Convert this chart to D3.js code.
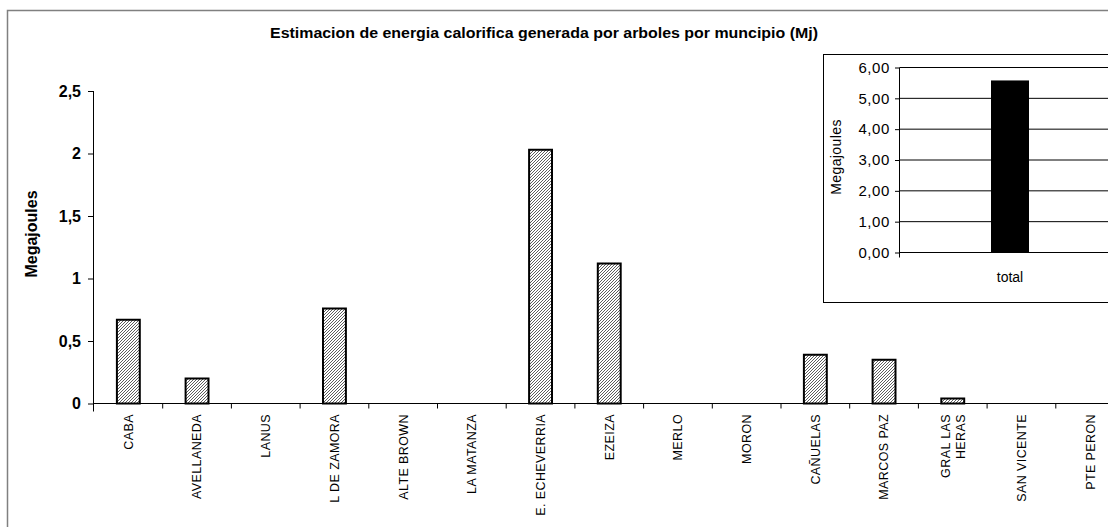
<!DOCTYPE html>
<html>
<head>
<meta charset="utf-8">
<script src="https://cdn.jsdelivr.net/npm/d3@7"></script>
<style>
  html, body { margin: 0; padding: 0; background: #fff; }
  svg { display: block; }
  text { font-family: "Liberation Sans", Arial, sans-serif; fill: #000; }
</style>
</head>
<body>
<svg id="chart" width="1108" height="527"></svg>
<script>
// Energia calorifica estimada por municipio (Megajoules)
const municipios = [
  "CABA", "AVELLANEDA", "LANUS", "L DE ZAMORA", "ALTE BROWN", "LA MATANZA",
  "E. ECHEVERRIA", "EZEIZA", "MERLO", "MORON", "CAÑUELAS", "MARCOS PAZ",
  "GRAL LAS\nHERAS", "SAN VICENTE", "PTE PERON"
];
const energiaMj = [0.67, 0.20, 0, 0.76, 0, 0, 2.03, 1.12, 0, 0, 0.39, 0.35, 0.04, 0, 0];
const ejeTicks = [0, 0.5, 1, 1.5, 2, 2.5];

// Total general
const totalCategorias = ["total"];
const totalMj = [5.58];
const totalTicks = [0, 1, 2, 3, 4, 5, 6];

const titulo = "Estimacion de energia calorifica generada por arboles por muncipio (Mj)";

const svg = d3.select("#chart");

// hatch fill for municipal bars
const defs = svg.append("defs");
const pat = defs.append("pattern")
  .attr("id", "rayado")
  .attr("patternUnits", "userSpaceOnUse")
  .attr("width", 3).attr("height", 3);
pat.append("rect").attr("width", 3).attr("height", 3).attr("fill", "#fff");
pat.append("path")
  .attr("d", "M-1,1 L1,-1 M0,3 L3,0 M2,4 L4,2")
  .attr("stroke", "#333").attr("stroke-width", 0.8);

// outer chart frame
svg.append("rect")
  .attr("x", 7.5).attr("y", 10.5)
  .attr("width", 1200).attr("height", 600)
  .attr("fill", "none").attr("stroke", "#808080").attr("stroke-width", 1.5);

// title
svg.append("text")
  .attr("x", 544).attr("y", 38)
  .attr("text-anchor", "middle")
  .attr("font-size", 14).attr("font-weight", "bold")
  .attr("textLength", 548).attr("lengthAdjust", "spacingAndGlyphs")
  .text(titulo);

// ---- main chart ----
const x = d3.scaleBand().domain(municipios).range([94, 1124.5]).padding(0);
const y = d3.scaleLinear().domain([0, 2.5]).range([403.5, 91]);
const barW = x.bandwidth() / 3;

const gMain = svg.append("g");

gMain.selectAll("rect.bar")
  .data(energiaMj.map((v, i) => ({ cat: municipios[i], v })).filter(d => d.v > 0))
  .join("rect")
  .attr("class", "bar")
  .attr("x", d => x(d.cat) + (x.bandwidth() - barW) / 2)
  .attr("y", d => y(d.v))
  .attr("width", barW)
  .attr("height", d => y(0) - y(d.v))
  .attr("fill", "url(#rayado)")
  .attr("stroke", "#000").attr("stroke-width", 2);

// y axis
const yAxis = d3.axisLeft(y).tickValues(ejeTicks).tickSize(6).tickPadding(7)
  .tickFormat(d => String(d).replace(".", ","));
const gy = gMain.append("g").attr("transform", "translate(94,0)").call(yAxis);
gy.select(".domain").attr("stroke", "#000").attr("d", `M-0.5,${y(2.5)}V${y(0) + 8}`);
gy.selectAll(".tick line").attr("stroke", "#000");
gy.selectAll(".tick text")
  .attr("font-size", 16).attr("font-weight", "bold")
  .attr("font-family", "'Liberation Sans', Arial, sans-serif");

// x axis: line with ticks at category boundaries
const gx = gMain.append("g");
gx.append("line")
  .attr("x1", x.range()[0]).attr("x2", x.range()[1])
  .attr("y1", y(0)).attr("y2", y(0))
  .attr("stroke", "#000");
gx.selectAll("line.tk")
  .data(municipios.slice(1))
  .join("line")
  .attr("class", "tk")
  .attr("x1", d => x(d)).attr("x2", d => x(d))
  .attr("y1", y(0)).attr("y2", y(0) + 5)
  .attr("stroke", "#000");

// rotated category labels
const lbl = gx.selectAll("text.cat")
  .data(municipios)
  .join("text")
  .attr("class", "cat")
  .attr("transform", d => `translate(${x(d) + x.bandwidth() / 2},414) rotate(-90)`)
  .attr("text-anchor", "end")
  .attr("font-size", 12.5)
  .attr("letter-spacing", 0.4);
lbl.each(function (d) {
  const lines = d.split("\n");
  const t = d3.select(this);
  lines.forEach((s, i) => {
    t.append("tspan")
      .attr("x", 0)
      .attr("dy", i === 0 ? `${0.35 - (lines.length - 1) * 0.6}em` : "1.25em")
      .text(s);
  });
});

// y axis title
svg.append("text")
  .attr("transform", "translate(37,234) rotate(-90)")
  .attr("text-anchor", "middle")
  .attr("font-size", 16).attr("font-weight", "bold")
  .text("Megajoules");

// ---- inset: total ----
svg.append("rect")
  .attr("x", 823.5).attr("y", 54.5)
  .attr("width", 400).attr("height", 248)
  .attr("fill", "#fff").attr("stroke", "#000").attr("stroke-width", 1);

const xi = d3.scaleBand().domain(totalCategorias).range([900, 1120]).padding(0);
const yi = d3.scaleLinear().domain([0, 6]).range([252.5, 67.5]);
const barWi = 38 / 220 * xi.bandwidth();

const gIn = svg.append("g");

// horizontal gridlines
gIn.selectAll("line.grid")
  .data(totalTicks)
  .join("line")
  .attr("class", "grid")
  .attr("x1", 900).attr("x2", 1120)
  .attr("y1", d => yi(d)).attr("y2", d => yi(d))
  .attr("stroke", "#000").attr("stroke-width", 1);

gIn.selectAll("rect.tot")
  .data(totalMj.map((v, i) => ({ cat: totalCategorias[i], v })))
  .join("rect")
  .attr("class", "tot")
  .attr("x", d => xi(d.cat) + (xi.bandwidth() - barWi) / 2)
  .attr("y", d => yi(d.v))
  .attr("width", barWi)
  .attr("height", d => yi(0) - yi(d.v))
  .attr("fill", "#000");

const yAxisI = d3.axisLeft(yi).tickValues(totalTicks).tickSize(5).tickPadding(5)
  .tickFormat(d => d.toFixed(2).replace(".", ","));
const gyi = gIn.append("g").attr("transform", "translate(900,0)").call(yAxisI);
gyi.select(".domain").attr("stroke", "#000").attr("d", `M-0.5,${yi(6)}V${yi(0) + 5}`);
gyi.selectAll(".tick line").attr("stroke", "#000");
gyi.selectAll(".tick text")
  .attr("font-size", 15).attr("letter-spacing", 0.6)
  .attr("font-family", "'Liberation Sans', Arial, sans-serif");

gIn.selectAll("text.totcat")
  .data(totalCategorias)
  .join("text")
  .attr("class", "totcat")
  .attr("x", d => xi(d) + xi.bandwidth() / 2)
  .attr("y", 282)
  .attr("text-anchor", "middle")
  .attr("font-size", 14)
  .text(d => d);

svg.append("text")
  .attr("transform", "translate(841,157) rotate(-90)")
  .attr("text-anchor", "middle")
  .attr("font-size", 14).attr("letter-spacing", 0.4)
  .text("Megajoules");
</script>
</body>
</html>
